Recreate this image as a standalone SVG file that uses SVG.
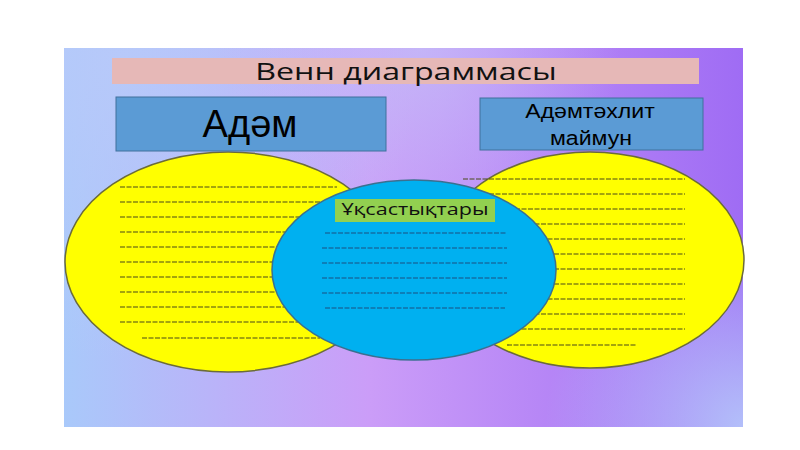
<svg xmlns="http://www.w3.org/2000/svg" width="800" height="450" viewBox="0 0 800 450">
  <defs>
    <linearGradient id="bg" x1="0" y1="0" x2="1" y2="0">
      <stop offset="0" stop-color="#a9c9fa"/>
      <stop offset="0.45" stop-color="#cb9df8"/>
      <stop offset="1" stop-color="#9f6cf4"/>
    </linearGradient>
    <radialGradient id="br" cx="745" cy="427" r="200" gradientUnits="userSpaceOnUse">
      <stop offset="0" stop-color="#b4c4fa" stop-opacity="0.95"/>
      <stop offset="1" stop-color="#b4c4fa" stop-opacity="0"/>
    </radialGradient>
    <radialGradient id="tl" cx="120" cy="60" r="300" gradientUnits="userSpaceOnUse">
      <stop offset="0" stop-color="#b8cafa" stop-opacity="0.9"/>
      <stop offset="1" stop-color="#b8cafa" stop-opacity="0"/>
    </radialGradient>
    <radialGradient id="tm" cx="420" cy="48" r="200" gradientUnits="userSpaceOnUse">
      <stop offset="0" stop-color="#c4bcf8" stop-opacity="0.8"/>
      <stop offset="1" stop-color="#c4bcf8" stop-opacity="0"/>
    </radialGradient>
  </defs>
  <style>
    .box { fill: #5b9bd5; stroke: #41719c; stroke-width: 1; }
    .yel { fill: #ffff00; stroke: #6b6b3a; stroke-width: 1.5; }
    .blu { fill: #00b0f0; stroke: #3a7090; stroke-width: 1.5; }
    .dy { stroke: #4a4a1a; stroke-width: 1.2; stroke-dasharray: 5 1.5; fill: none; }
    .db { stroke: #1a4f80; stroke-width: 1.2; stroke-dasharray: 5 1.5; fill: none; }
    .ar { font-family: "Liberation Sans", Arial, sans-serif; fill: #000; text-anchor: middle; }
    .cal { font-family: "Open Sans", "Noto Sans", sans-serif; fill: #111; text-anchor: middle; }
  </style>
  <rect x="0" y="0" width="800" height="450" fill="#ffffff"/>
  <rect x="64" y="48" width="679" height="379" fill="url(#bg)"/>
  <rect x="64" y="48" width="679" height="379" fill="url(#tl)"/>
  <rect x="64" y="48" width="679" height="379" fill="url(#tm)"/>
  <rect x="64" y="48" width="679" height="379" fill="url(#br)"/>

  <g id="title">
    <rect x="112" y="58" width="587" height="26" fill="#e6b8b7"/>
    <text class="cal" font-size="23" font-weight="500" transform="translate(406 79.5) scale(1.4 1)">Венн диаграммасы</text>
  </g>

  <g id="left-set">
    <ellipse class="yel" cx="228" cy="262" rx="163" ry="110"/>
    <g class="dy">
      <path d="M120 187H337"/>
      <path d="M120 202H337"/>
      <path d="M120 217H337"/>
      <path d="M120 232H337"/>
      <path d="M120 247H337"/>
      <path d="M120 262H337"/>
      <path d="M120 277H337"/>
      <path d="M120 292H337"/>
      <path d="M120 307H337"/>
      <path d="M120 322H337"/>
      <path d="M142 338H320"/>
    </g>
  </g>

  <g id="right-set">
    <ellipse class="yel" cx="590" cy="260" rx="154" ry="108"/>
    <g class="dy">
      <path d="M463 179H685"/>
      <path d="M463 194H685"/>
      <path d="M463 209H685"/>
      <path d="M463 224H685"/>
      <path d="M463 239H685"/>
      <path d="M463 254H685"/>
      <path d="M463 269H685"/>
      <path d="M463 284H685"/>
      <path d="M463 299H685"/>
      <path d="M463 314H685"/>
      <path d="M463 329H685"/>
      <path d="M507 345H637"/>
    </g>
  </g>

  <g id="common">
    <ellipse class="blu" cx="414" cy="270" rx="142" ry="90"/>
    <rect x="335" y="199" width="160" height="23" fill="#92d050"/>
    <text class="cal" font-size="16" font-weight="500" transform="translate(415 215) scale(1.35 1)">Ұқсастықтары</text>
    <g class="db">
      <path d="M325 233H507"/>
      <path d="M322 248H507"/>
      <path d="M322 263H507"/>
      <path d="M322 278H507"/>
      <path d="M322 293H507"/>
      <path d="M325 308H505"/>
    </g>
  </g>

  <g id="label-left">
    <rect class="box" x="116" y="97" width="270" height="54"/>
    <text class="ar" x="250" y="137" font-size="38">Адәм</text>
  </g>

  <g id="label-right">
    <rect class="box" x="480" y="98" width="223" height="52"/>
    <text class="ar" font-size="21" transform="translate(590 118) scale(1.1 1)">Адәмтәхлит</text>
    <text class="ar" font-size="21" transform="translate(591 145) scale(1.1 1)">маймун</text>
  </g>
</svg>
